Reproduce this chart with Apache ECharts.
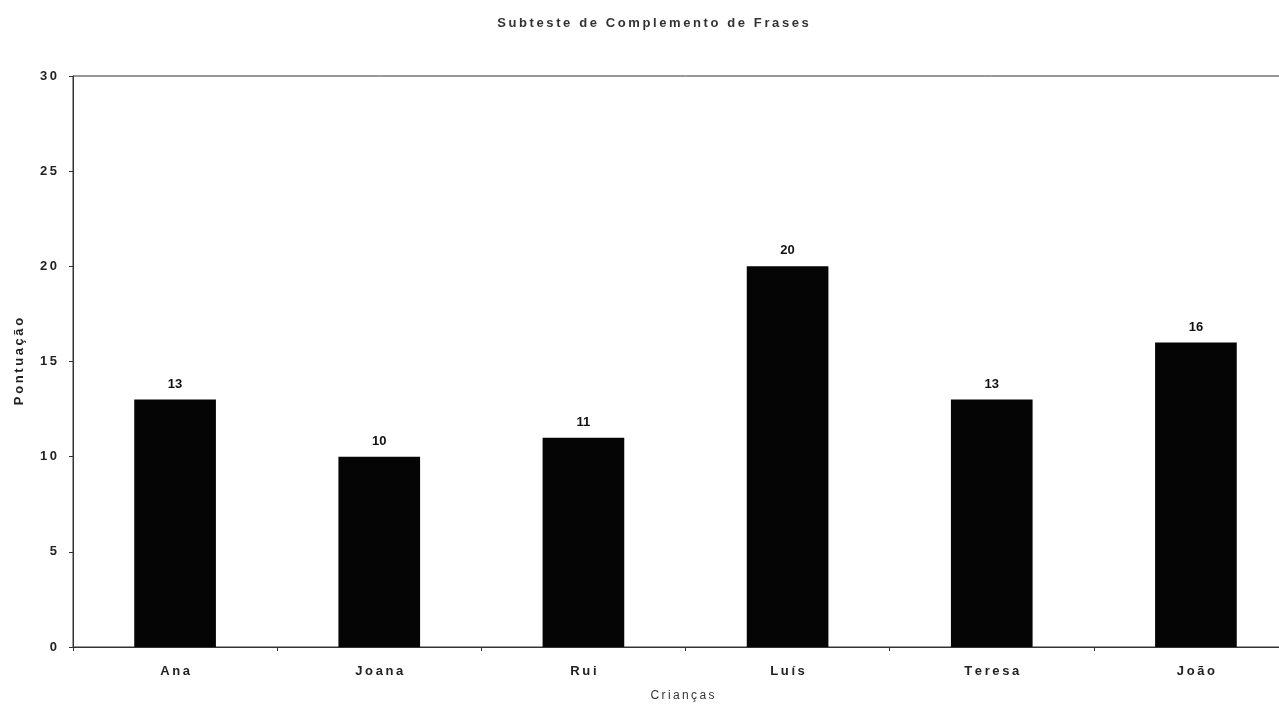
<!DOCTYPE html>
<html>
<head>
<meta charset="UTF-8" />
<title>Subteste de Complemento de Frases</title>
<script src="https://cdn.jsdelivr.net/npm/echarts@6/dist/echarts.min.js"></script>
<style>
  html, body { margin:0; padding:0; width:100vw; height:100vh; overflow:hidden; background:#fff; }
  /* a área do gráfico continua para lá da margem direita, como no original */
  #chart { position:absolute; top:0; left:0; width:1298px; height:707px; }
</style>
</head>
<body>
<div id="chart"></div>
<script>
// dados
const criancas = ['Ana', 'Joana', 'Rui', 'Luís', 'Teresa', 'João'];
const pontuacao = [13, 10, 11, 20, 13, 16];

const font = '"Liberation Sans", Arial, sans-serif';
// espaçamento entre letras (o zrender não tem letterSpacing)
const sp = s => Array.from(s).join('\u2009');

const chart = echarts.init(document.getElementById('chart'));
chart.setOption({
  animation: false,
  title: {
    text: sp('Subteste de Complemento de Frases'),
    left: 648, top: 12, textAlign: 'center',
    textStyle: { fontFamily: font, fontSize: 13, fontWeight: 'bold', color: '#333' }
  },
  grid: {
    left: 73, right: 0, top: 76, bottom: 60,
    show: true, borderColor: '#333', borderWidth: 1, backgroundColor: 'transparent'
  },
  xAxis: {
    type: 'category',
    data: criancas,
    name: sp('Crianças'),
    nameLocation: 'middle',
    nameGap: 43,
    nameTextStyle: { fontFamily: font, fontSize: 12, color: '#333', padding: [0, 0, 0, -6] },
    axisLine: { lineStyle: { color: '#333' } },
    axisTick: { show: true, alignWithLabel: false, length: 4, lineStyle: { color: '#333' } },
    axisLabel: { fontFamily: font, fontSize: 13, fontWeight: 'bold', color: '#222', margin: 18, formatter: v => sp(v) }
  },
  yAxis: {
    type: 'value',
    min: 0, max: 30, interval: 5,
    name: sp('Pontuação'),
    nameLocation: 'middle',
    nameGap: 47,
    nameTextStyle: { fontFamily: font, fontSize: 13, fontWeight: 'bold', color: '#222' },
    axisLine: { show: true, lineStyle: { color: '#333' } },
    axisTick: { show: true, length: 4, lineStyle: { color: '#333' } },
    splitLine: { show: false },
    axisLabel: { fontFamily: font, fontSize: 13, fontWeight: 'bold', color: '#222', margin: 16, formatter: v => sp(String(v)) }
  },
  series: [{
    type: 'bar',
    data: pontuacao,
    barWidth: '40%',
    itemStyle: { color: '#050505' },
    label: {
      show: true, position: 'top', distance: 9,
      fontFamily: font, fontSize: 13, fontWeight: 'bold', color: '#111'
    }
  }]
});
</script>
</body>
</html>
